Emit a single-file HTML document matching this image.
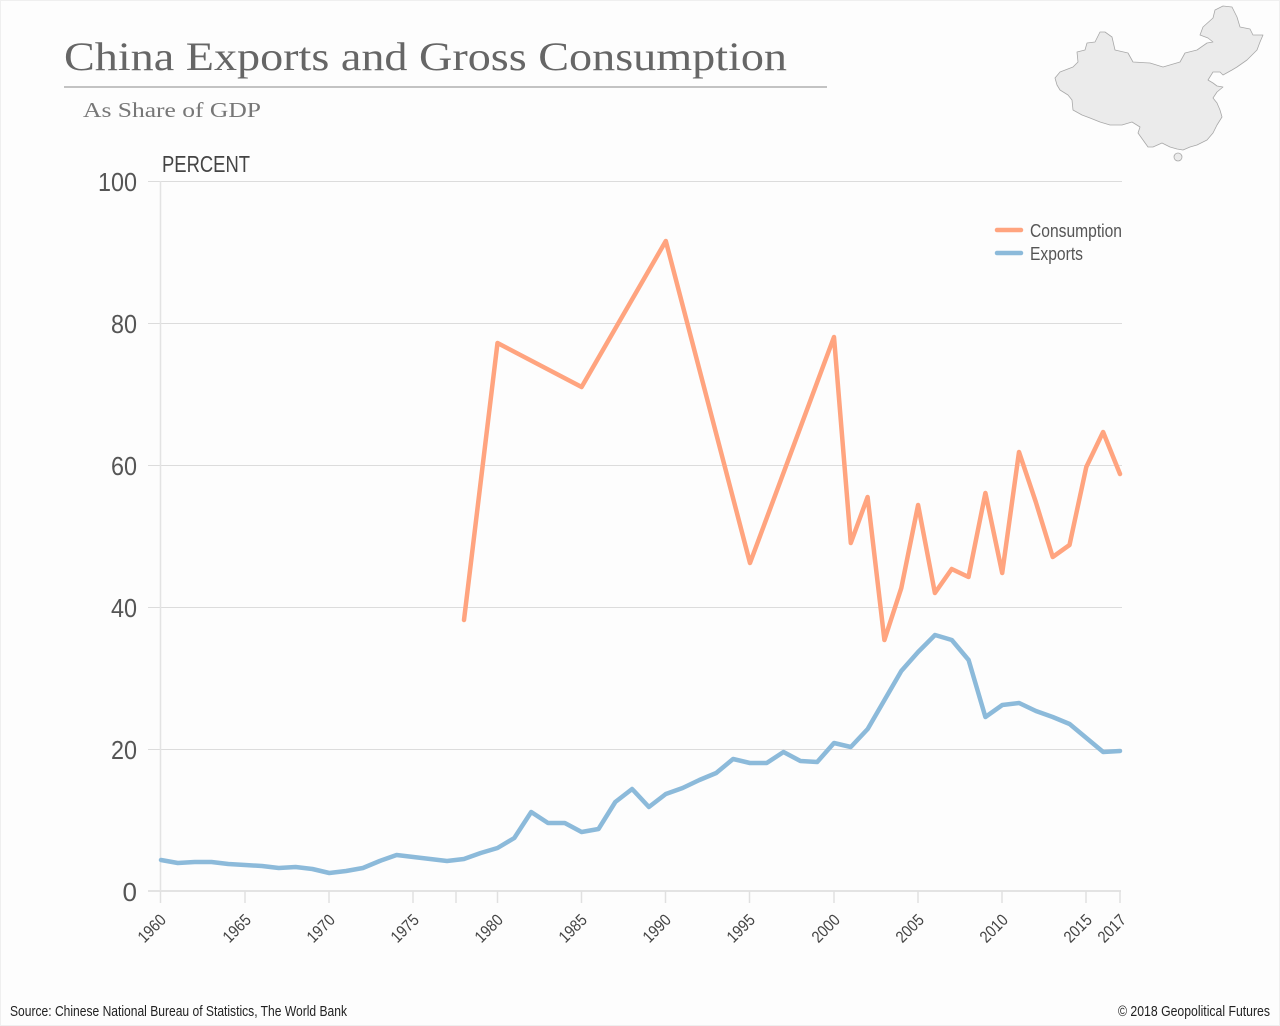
<!DOCTYPE html>
<html>
<head>
<meta charset="utf-8">
<style>
html,body{margin:0;padding:0;background:#fdfdfd;}
svg{display:block;}
</style>
</head>
<body>
<svg width="1280" height="1026" viewBox="0 0 1280 1026" xmlns="http://www.w3.org/2000/svg">
<rect x="0" y="0" width="1280" height="1026" fill="#fdfdfd"/>
<rect x="0.5" y="0.5" width="1279" height="1025" fill="none" stroke="#efefef" stroke-width="1"/>

<!-- Title -->
<text x="64" y="70" font-family="Liberation Serif, serif" font-size="40" fill="#666" textLength="723" lengthAdjust="spacingAndGlyphs">China Exports and Gross Consumption</text>
<line x1="64" y1="87" x2="827" y2="87" stroke="#b0b0b0" stroke-width="1.5"/>
<text x="83" y="117" font-family="Liberation Serif, serif" font-size="21" fill="#777" textLength="178" lengthAdjust="spacingAndGlyphs">As Share of GDP</text>

<!-- China map -->
<path d="M1055,78 L1060,72 L1073,67 L1078,62 L1077,52 L1085,50 L1087,43 L1095,42 L1100,32 L1105,32 L1112,37 L1115,50 L1128,53 L1133,62 L1150,63 L1163,67 L1180,62 L1185,53 L1197,50 L1207,43 L1213,42 L1208,38 L1200,35 L1203,27 L1213,18 L1215,10 L1223,6 L1232,7 L1237,17 L1240,27 L1250,29 L1253,35 L1263,35 L1260,42 L1257,50 L1247,60 L1237,67 L1232,70 L1223,75 L1220,72 L1213,72 L1208,80 L1213,83 L1217,86 L1223,87 L1217,92 L1213,98 L1217,103 L1220,110 L1222,117 L1217,125 L1213,133 L1207,140 L1197,145 L1190,147 L1183,150 L1177,149 L1170,147 L1162,143 L1153,147 L1148,147 L1143,140 L1138,133 L1140,127 L1132,122 L1122,125 L1110,125 L1100,122 L1090,118 L1082,115 L1073,110 L1072,100 L1068,95 L1060,90 L1057,85 Z" fill="#ebebeb" stroke="#a8a8a8" stroke-width="0.8" stroke-linejoin="round"/>
<ellipse cx="1178" cy="157" rx="4" ry="4" fill="#ebebeb" stroke="#a8a8a8" stroke-width="0.8"/>

<!-- PERCENT -->
<text x="162" y="172" font-family="Liberation Sans, sans-serif" font-size="23" fill="#444" textLength="88" lengthAdjust="spacingAndGlyphs">PERCENT</text>

<!-- Gridlines -->
<g stroke="#dcdcdc" stroke-width="1">
<line x1="148" y1="181.5" x2="1122" y2="181.5"/>
<line x1="148" y1="323.5" x2="1122" y2="323.5"/>
<line x1="148" y1="465.5" x2="1122" y2="465.5"/>
<line x1="148" y1="607.5" x2="1122" y2="607.5"/>
<line x1="148" y1="749.5" x2="1122" y2="749.5"/>
</g>
<line x1="160.5" y1="181" x2="160.5" y2="891" stroke="#e3e3e3" stroke-width="1.5"/>
<line x1="148" y1="891" x2="1121" y2="891" stroke="#e3e3e3" stroke-width="2"/>

<!-- X ticks -->
<g stroke="#e0e0e0" stroke-width="1.5">
<line x1="160.5" y1="891" x2="160.5" y2="903"/>
<line x1="245" y1="891" x2="245" y2="903"/>
<line x1="329" y1="891" x2="329" y2="903"/>
<line x1="413" y1="891" x2="413" y2="903"/>
<line x1="456" y1="891" x2="456" y2="903"/>
<line x1="497.5" y1="891" x2="497.5" y2="903"/>
<line x1="581.5" y1="891" x2="581.5" y2="903"/>
<line x1="665.5" y1="891" x2="665.5" y2="903"/>
<line x1="749.5" y1="891" x2="749.5" y2="903"/>
<line x1="834" y1="891" x2="834" y2="903"/>
<line x1="918" y1="891" x2="918" y2="903"/>
<line x1="1002" y1="891" x2="1002" y2="903"/>
<line x1="1086" y1="891" x2="1086" y2="903"/>
<line x1="1120" y1="891" x2="1120" y2="903"/>
</g>

<!-- Y labels -->
<g font-family="Liberation Sans, sans-serif" font-size="26" fill="#555" text-anchor="end">
<text x="137" y="191" textLength="39" lengthAdjust="spacingAndGlyphs">100</text>
<text x="137" y="333" textLength="26" lengthAdjust="spacingAndGlyphs">80</text>
<text x="137" y="475" textLength="26" lengthAdjust="spacingAndGlyphs">60</text>
<text x="137" y="617" textLength="26" lengthAdjust="spacingAndGlyphs">40</text>
<text x="137" y="759" textLength="26" lengthAdjust="spacingAndGlyphs">20</text>
<text x="137" y="901">0</text>
</g>

<!-- X labels -->
<g font-family="Liberation Sans, sans-serif" font-size="16.5" fill="#444" text-anchor="end">
<text x="167" y="921" transform="rotate(-45 167 921)" textLength="32" lengthAdjust="spacingAndGlyphs">1960</text>
<text x="252" y="921" transform="rotate(-45 252 921)" textLength="32" lengthAdjust="spacingAndGlyphs">1965</text>
<text x="336" y="921" transform="rotate(-45 336 921)" textLength="32" lengthAdjust="spacingAndGlyphs">1970</text>
<text x="420" y="921" transform="rotate(-45 420 921)" textLength="32" lengthAdjust="spacingAndGlyphs">1975</text>
<text x="504" y="921" transform="rotate(-45 504 921)" textLength="32" lengthAdjust="spacingAndGlyphs">1980</text>
<text x="588" y="921" transform="rotate(-45 588 921)" textLength="32" lengthAdjust="spacingAndGlyphs">1985</text>
<text x="672" y="921" transform="rotate(-45 672 921)" textLength="32" lengthAdjust="spacingAndGlyphs">1990</text>
<text x="756" y="921" transform="rotate(-45 756 921)" textLength="32" lengthAdjust="spacingAndGlyphs">1995</text>
<text x="841" y="921" transform="rotate(-45 841 921)" textLength="32" lengthAdjust="spacingAndGlyphs">2000</text>
<text x="925" y="921" transform="rotate(-45 925 921)" textLength="32" lengthAdjust="spacingAndGlyphs">2005</text>
<text x="1009" y="921" transform="rotate(-45 1009 921)" textLength="32" lengthAdjust="spacingAndGlyphs">2010</text>
<text x="1093" y="921" transform="rotate(-45 1093 921)" textLength="32" lengthAdjust="spacingAndGlyphs">2015</text>
<text x="1127" y="921" transform="rotate(-45 1127 921)" textLength="32" lengthAdjust="spacingAndGlyphs">2017</text>
</g>

<!-- Consumption -->
<polyline fill="none" stroke="#ffa47f" stroke-width="4.5" stroke-linejoin="round" stroke-linecap="round"
points="464,620 497.5,343 581.6,387 665.8,241 750,563 834,337 850.8,543 867.6,497 884.4,640 901.3,588 918.1,505 934.9,593 951.7,569 968.5,577 985.4,493 1002.2,573 1019,452 1035.8,502 1052.7,557 1069.5,545 1086.3,467 1103.1,432 1120,474"/>

<!-- Exports -->
<polyline fill="none" stroke="#8cbada" stroke-width="4.5" stroke-linejoin="round" stroke-linecap="round"
points="161,860 177.8,863 194.7,862 211.5,862 228.3,864 245.1,865 262,866 278.8,868 295.6,867 312.4,869 329.3,873 346.1,871 362.9,868 379.7,861 396.6,855 413.4,857 430.2,859 447,861 463.9,859 480.7,853 497.5,848 514.3,838 531.2,812 548,823 564.8,823 581.6,832 598.5,829 615.3,802 632.1,789 648.9,807 665.8,794 682.6,788 699.4,780 716.2,773 733.1,759 749.9,763 766.7,763 783.5,752 800.4,761 817.2,762 834,743 850.8,747 867.7,729 884.5,700 901.3,671 918.1,652 935,635 951.8,640 968.6,660 985.4,717 1002.3,705 1019.1,703 1035.9,711 1052.7,717 1069.6,724 1086.4,738 1103.2,752 1120,751"/>

<!-- Legend -->
<line x1="997" y1="230" x2="1021" y2="230" stroke="#ffa47f" stroke-width="4.5" stroke-linecap="round"/>
<line x1="997" y1="253" x2="1021" y2="253" stroke="#8cbada" stroke-width="4.5" stroke-linecap="round"/>
<g font-family="Liberation Sans, sans-serif" font-size="18" fill="#555">
<text x="1030" y="237" textLength="92" lengthAdjust="spacingAndGlyphs">Consumption</text>
<text x="1030" y="260" textLength="53" lengthAdjust="spacingAndGlyphs">Exports</text>
</g>

<!-- Footer -->
<g font-family="Liberation Sans, sans-serif" font-size="15" fill="#222">
<text x="10" y="1016" textLength="337" lengthAdjust="spacingAndGlyphs">Source: Chinese National Bureau of Statistics, The World Bank</text>
<text x="1270" y="1016" text-anchor="end" textLength="152" lengthAdjust="spacingAndGlyphs">© 2018 Geopolitical Futures</text>
</g>
</svg>
</body>
</html>
